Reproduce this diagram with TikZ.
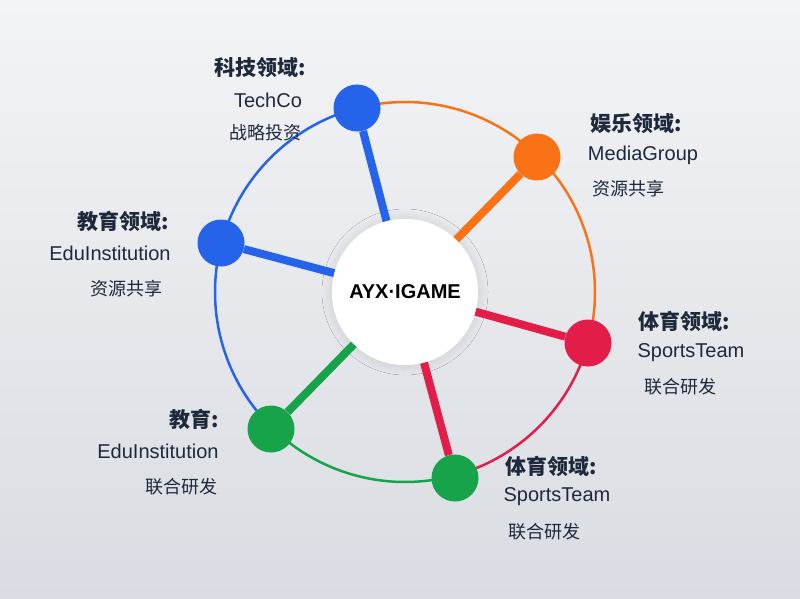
\documentclass[tikz,border=0pt]{standalone}
\usepackage{fontspec}
\setmainfont{Liberation Sans}
\newfontfamily\cjk{Noto Sans CJK SC}
\usetikzlibrary{shadows.blur}
\definecolor{cb}{HTML}{2563EB}
\definecolor{co}{HTML}{F97316}
\definecolor{cr}{HTML}{E11D48}
\definecolor{cg}{HTML}{16A34A}
\definecolor{tx}{HTML}{1E293B}
\definecolor{bgt}{HTML}{F3F4F6}
\definecolor{bgb}{HTML}{D9DCE2}
\begin{document}
\begin{tikzpicture}[x=1pt,y=-1pt,
 dot/.style={circle,minimum size=47pt,inner sep=0pt},
 spoke/.style={line width=8pt},
 arc/.style={line width=2.5pt},
 hd/.style={font=\cjk\bfseries\fontsize{21}{23}\selectfont,text=tx},
 en/.style={font=\fontsize{20}{22}\selectfont,text=tx},
 zh/.style={font=\cjk\fontsize{18}{20}\selectfont,text=tx}]
\shade[top color=bgt,bottom color=bgb] (0,0) rectangle (800,599);
\useasboundingbox (0,0) rectangle (800,599);
\coordinate (O) at (405,292);
\def\R{190}
\draw[arc,co] (O) ++(-104.6:\R) arc[start angle=-104.6,end angle=-45.6,radius=\R];
\draw[arc,co] (O) ++(-45.6:\R) arc[start angle=-45.6,end angle=15.6,radius=\R];
\draw[arc,cr] (O) ++(15.6:\R) arc[start angle=15.6,end angle=74.6,radius=\R];
\draw[arc,cg] (O) ++(74.6:\R) arc[start angle=74.6,end angle=135.5,radius=\R];
\draw[arc,cb] (O) ++(135.5:\R) arc[start angle=135.5,end angle=196.8,radius=\R];
\draw[arc,cb] (O) ++(196.8:\R) arc[start angle=196.8,end angle=255.4,radius=\R];
\node[dot,fill=cb] (a) at (357,108) {};
\node[dot,fill=co] (b) at (537,157) {};
\node[dot,fill=cr] (c) at (588,343) {};
\node[dot,fill=cg] (d) at (455,478) {};
\node[dot,fill=cg] (e) at (271,429) {};
\node[dot,fill=cb] (f) at (221,243) {};
\node[circle,fill=white,minimum size=146pt,blur shadow={shadow blur steps=12,shadow xshift=0pt,shadow yshift=0pt,shadow blur radius=10pt,shadow opacity=12}] (m) at (O) {};
\draw[spoke,cb] (m) -- (a);
\draw[spoke,co] (m) -- (b);
\draw[spoke,cr] (m) -- (c);
\draw[spoke,cr] (m) -- (d);
\draw[spoke,cg] (m) -- (e);
\draw[spoke,cb] (m) -- (f);
\node[circle,fill=white,minimum size=146pt] (m2) at (O) {};
\node[font=\bfseries\fontsize{20}{22}\selectfont,text=black] (t) at (O) {AYX·IGAME};
\node[hd] (a1) at (260,68) {科技领域:};
\node[en] (a2) at (268,100) {TechCo};
\node[zh] (a3) at (265,133) {战略投资};
\node[hd] (b1) at (636,124) {娱乐领域:};
\node[en] (b2) at (643,155) {MediaGroup};
\node[zh] (b3) at (628,189) {资源共享};
\node[hd] (c1) at (684,321) {体育领域:};
\node[en] (c2) at (691,353) {SportsTeam};
\node[zh] (c3) at (680,387) {联合研发};
\node[hd] (d1) at (551,466) {体育领域:};
\node[en] (d2) at (557,497) {SportsTeam};
\node[zh] (d3) at (544,532) {联合研发};
\node[hd] (e1) at (194,419) {教育:};
\node[en] (e2) at (158,451) {EduInstitution};
\node[zh] (e3) at (181,487) {联合研发};
\node[hd] (f1) at (123,221) {教育领域:};
\node[en] (f2) at (110,253) {EduInstitution};
\node[zh] (f3) at (126,289) {资源共享};
\end{tikzpicture}
\end{document}
